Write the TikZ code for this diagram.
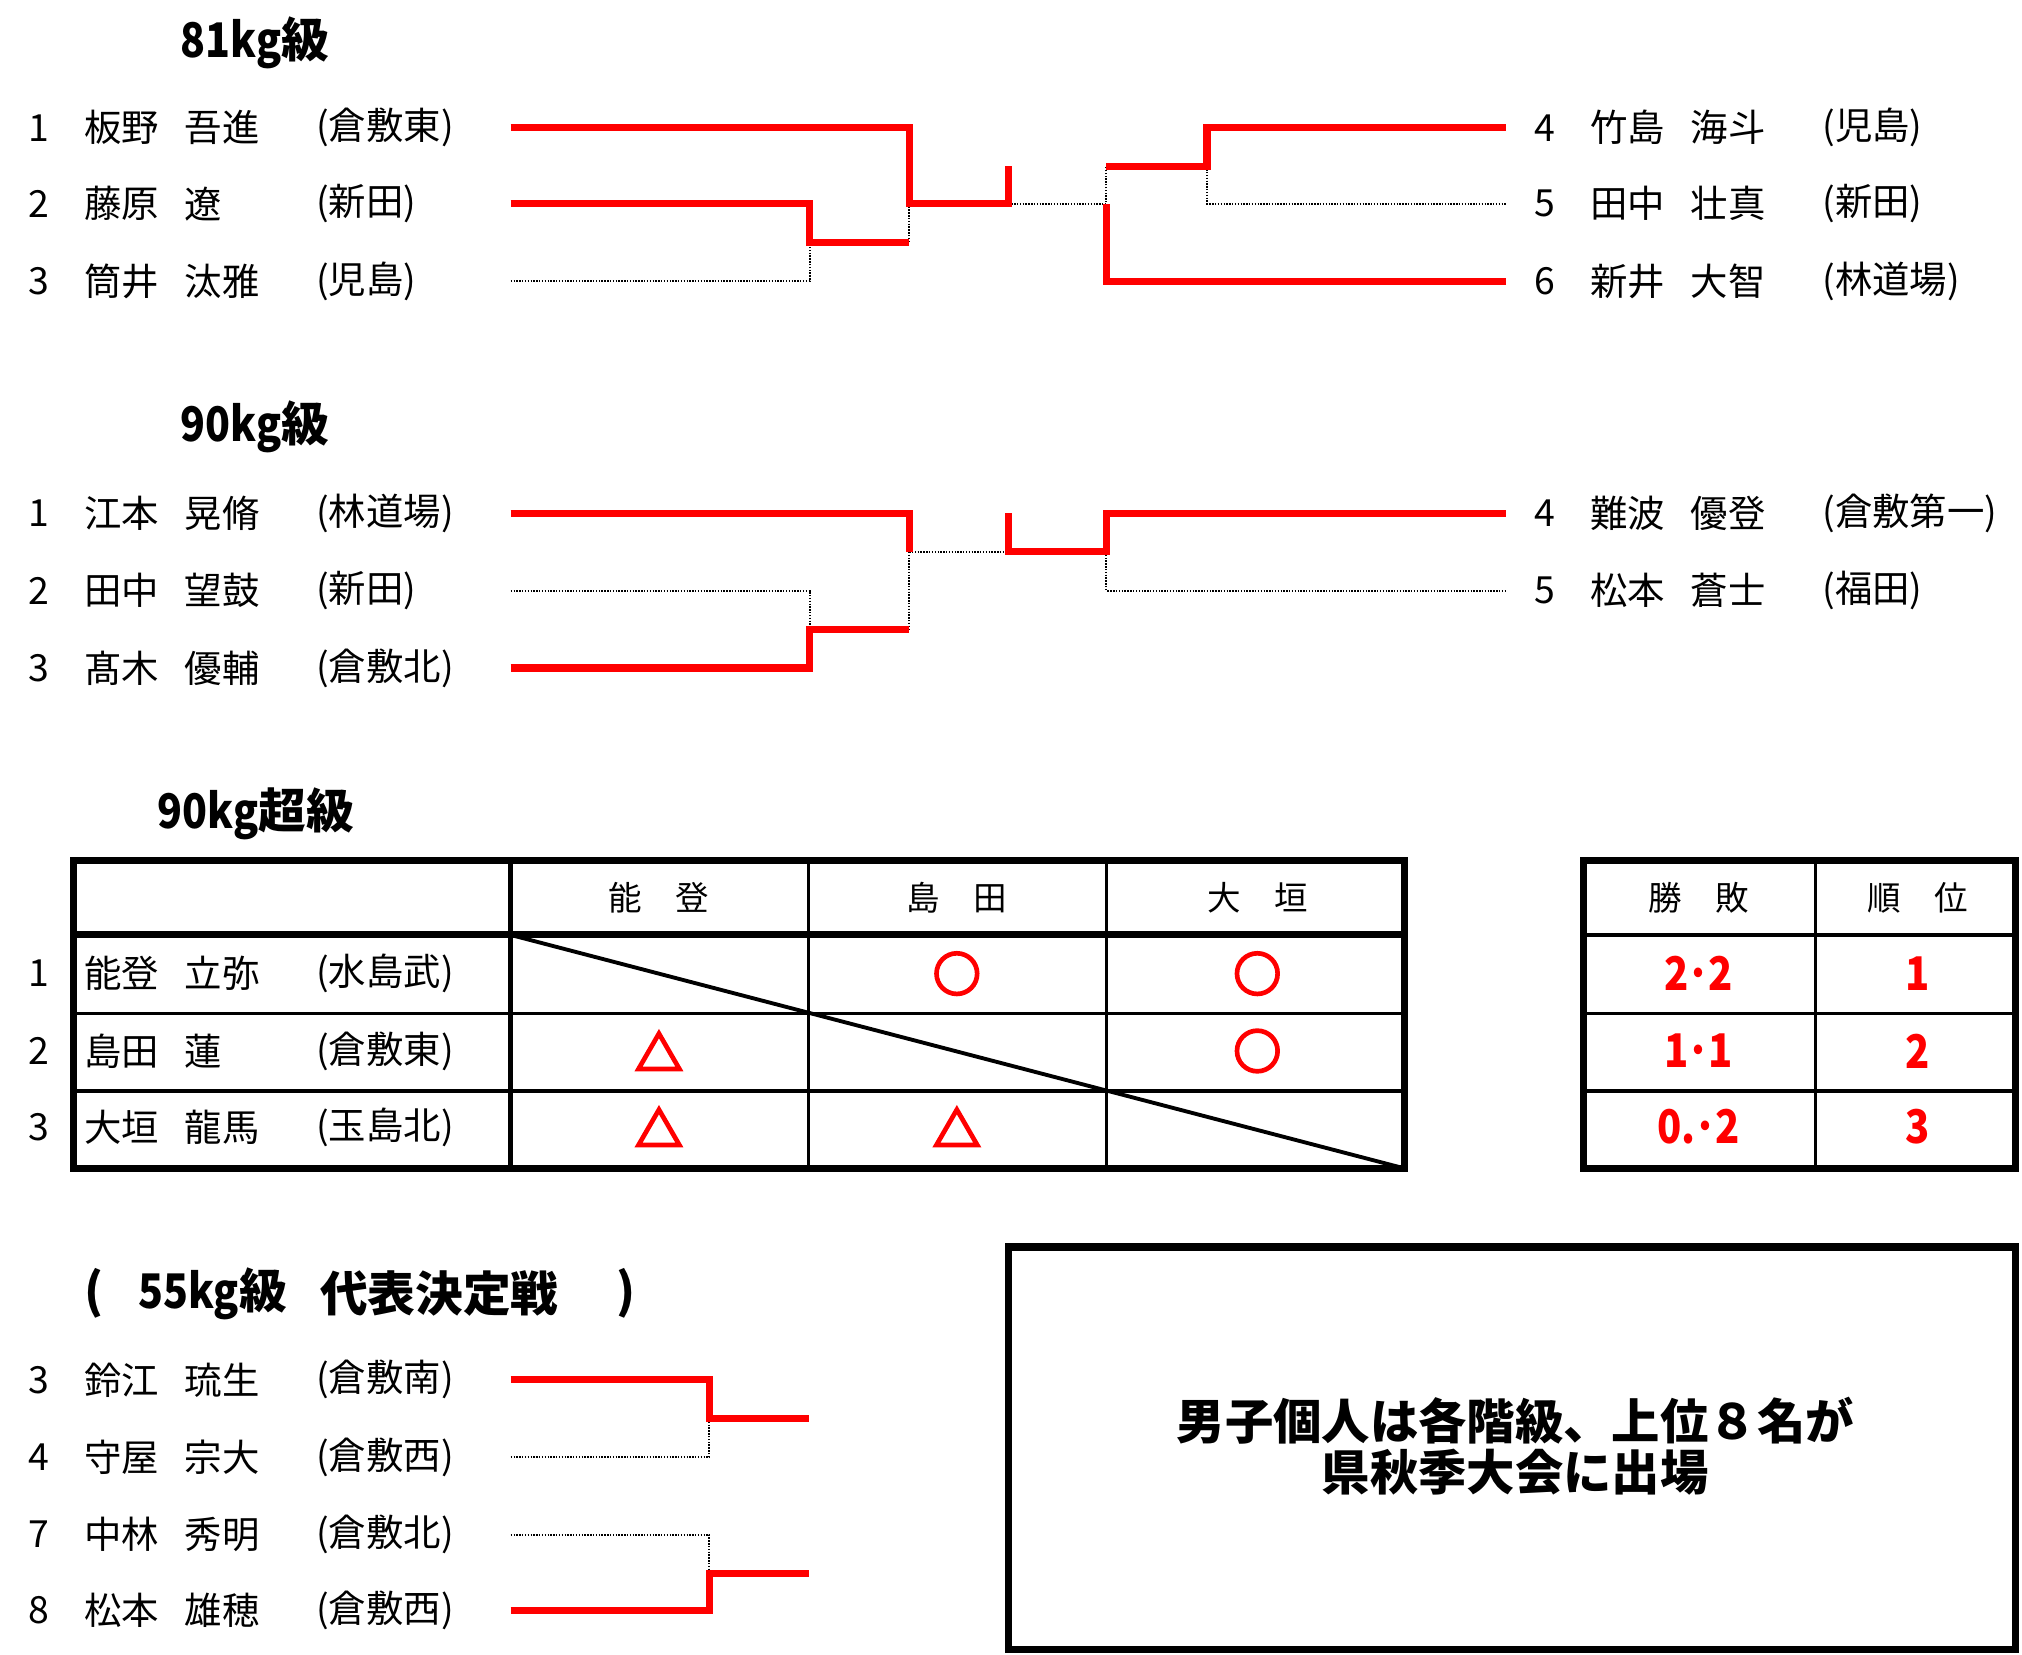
\documentclass[tikz,border=0pt]{standalone}
\usepackage{fontspec}
\setmainfont{Noto Sans CJK JP}
\newfontfamily\markfont[FakeBold=5]{Noto Sans CJK JP}
\newfontfamily\narrowfont[FakeStretch=0.86]{Noto Sans CJK JP}
\newcommand\nd[1]{{\narrowfont\bfseries #1}}
\definecolor{wred}{RGB}{255,0,0}
\tikzset{
  nm/.style={anchor=west, inner sep=0pt, font=\fontsize{29}{30}\selectfont},
  ttl/.style={anchor=west, inner sep=0pt, font=\fontsize{37}{38}\selectfont\bfseries},
  hdr/.style={inner sep=0pt, font=\fontsize{26}{27}\selectfont},
  res/.style={inner sep=0pt, text=wred, font=\fontsize{36}{37}\selectfont\bfseries},
  resmark/.style={inner sep=0pt, text=wred, font=\fontsize{37}{38}\selectfont\markfont\bfseries},
  note/.style={inner sep=0pt, font=\fontsize{37.5}{38}\selectfont\bfseries},
  win/.style={draw=wred, line width=5.5pt},
  lose/.style={draw=black, line width=1.6pt, dash pattern=on 1.1pt off 1.1pt},
  thickrule/.style={draw=black, line width=5.5pt},
  midrule/.style={draw=black, line width=4pt},
  thinrule/.style={draw=black, line width=2.5pt},
}
\newcommand\player[7]{%
  \node[nm, anchor=center] (#1n) at (#2,#3) {#4};
  \node[nm] (#1f) at ({#2+35},#3) {#5};
  \node[nm] (#1g) at ({#2+113},#3) {#6};
  \node[nm] (#1s) at ({#2+215},#3) {#7};
}
\begin{document}
\begin{tikzpicture}[x=1pt,y=-1pt]
\path[use as bounding box, fill=white] (0,0) rectangle (1568,1283);

% ---------------- 81kg
\node[ttl] (t81) at (140,33) {\nd{81kg}級};
\player{a1}{30}{99}{1}{板野}{吾進}{(倉敷東)}
\player{a2}{30}{158}{2}{藤原}{遼}{(新田)}
\player{a3}{30}{218}{3}{筒井}{汰雅}{(児島)}
\player{a4}{1198}{99}{4}{竹島}{海斗}{(児島)}
\player{a5}{1198}{158}{5}{田中}{壮真}{(新田)}
\player{a6}{1198}{218}{6}{新井}{大智}{(林道場)}

\draw[lose] (396,218) -- (628,218) -- (628,188);
\draw[lose] (705,158) -- (705,188);
\draw[lose] (782,158) -- (858,158) -- (858,129);
\draw[lose] (936,129) -- (936,158) -- (1168,158);
\draw[win] (396,99) -- (705,99) -- (705,158) -- (782,158) -- (782,129);
\draw[win] (396,158) -- (628,158) -- (628,188) -- (705,188);
\draw[win] (1168,218) -- (858,218) -- (858,158);
\draw[win] (858,129) -- (936,129) -- (936,99) -- (1168,99);

% ---------------- 90kg
\node[ttl] (t90) at (140,331) {\nd{90kg}級};
\player{b1}{30}{398}{1}{江本}{晃脩}{(林道場)}
\player{b2}{30}{458}{2}{田中}{望鼓}{(新田)}
\player{b3}{30}{518}{3}{髙木}{優輔}{(倉敷北)}
\player{b4}{1198}{398}{4}{難波}{優登}{(倉敷第一)}
\player{b5}{1198}{458}{5}{松本}{蒼士}{(福田)}

\draw[lose] (705,428) -- (782,428);
\draw[lose] (705,428) -- (705,488);
\draw[lose] (396,458) -- (628,458) -- (628,488);
\draw[lose] (858,428) -- (858,458) -- (1168,458);
\draw[win] (396,398) -- (705,398) -- (705,428);
\draw[win] (396,518) -- (628,518) -- (628,488) -- (705,488);
\draw[win] (782,398) -- (782,428) -- (858,428) -- (858,398) -- (1168,398);

% ---------------- 90kg超級
\node[ttl] (t90p) at (122,631) {\nd{90kg}超級};
\player{c1}{30}{755}{1}{能登}{立弥}{(水島武)}
\player{c2}{30}{815}{2}{島田}{蓮}{(倉敷東)}
\player{c3}{30}{874}{3}{大垣}{龍馬}{(玉島北)}

\draw[thinrule] (57,786) -- (1091,786);
\draw[thinrule] (57,846) -- (1091,846);
\draw[thinrule] (627,667) -- (627,906);
\draw[thinrule] (858,667) -- (858,906);
\draw[midrule] (396,667) -- (396,906);
\draw[thickrule] (57,725) -- (1091,725);
\draw[thickrule] (57,667) rectangle (1089,906);
\draw[line width=3pt] (396,725) -- (1089,906);

\node[hdr] (h1) at (511,696) {能　登};
\node[hdr] (h2) at (742,696) {島　田};
\node[hdr] (h3) at (975,696) {大　垣};

\node[resmark] (m12) at (742,755) {○};
\node[resmark] (m13) at (975,755) {○};
\node[resmark] (m23) at (975,815) {○};
\node[resmark] (m21) at (511,815) {△};
\node[resmark] (m31) at (511,874) {△};
\node[resmark] (m32) at (742,874) {△};

\draw[thinrule] (1226,725) -- (1566,725);
\draw[thinrule] (1226,786) -- (1566,786);
\draw[thinrule] (1226,846) -- (1566,846);
\draw[thinrule] (1408,667) -- (1408,906);
\draw[thickrule] (1228,667) rectangle (1563,906);

\node[hdr] (h4) at (1317,696) {勝　敗};
\node[hdr] (h5) at (1487,696) {順　位};
\node[res] (r1) at (1317,755) {\nd{2･2}};
\node[res] (r2) at (1317,815) {\nd{1･1}};
\node[res] (r3) at (1317,874) {\nd{0.･2}};
\node[res] (k1) at (1487,755) {\nd{1}};
\node[res] (k2) at (1487,815) {\nd{2}};
\node[res] (k3) at (1487,874) {\nd{3}};

% ---------------- 55kg
\node[ttl] (p1) at (65,1003) {(};
\node[ttl] (p2) at (107,1003) {\nd{55kg}級};
\node[ttl] (p3) at (248,1003) {代表決定戦};
\node[ttl] (p4) at (478,1003) {)};
\player{d3}{30}{1070}{3}{鈴江}{琉生}{(倉敷南)}
\player{d4}{30}{1130}{4}{守屋}{宗大}{(倉敷西)}
\player{d7}{30}{1190}{7}{中林}{秀明}{(倉敷北)}
\player{d8}{30}{1249}{8}{松本}{雄穂}{(倉敷西)}

\draw[lose] (396,1130) -- (550,1130) -- (550,1100);
\draw[lose] (396,1190) -- (550,1190) -- (550,1220);
\draw[win] (396,1070) -- (550,1070) -- (550,1100) -- (627,1100);
\draw[win] (396,1249) -- (550,1249) -- (550,1220) -- (627,1220);

% ---------------- note box
\draw[thickrule] (782,967) rectangle (1563,1279);
\node[note] (n1) at (1175,1102) {男子個人は各階級、上位８名が};
\node[note] (n2) at (1175,1142) {県秋季大会に出場};
\end{tikzpicture}
\end{document}
